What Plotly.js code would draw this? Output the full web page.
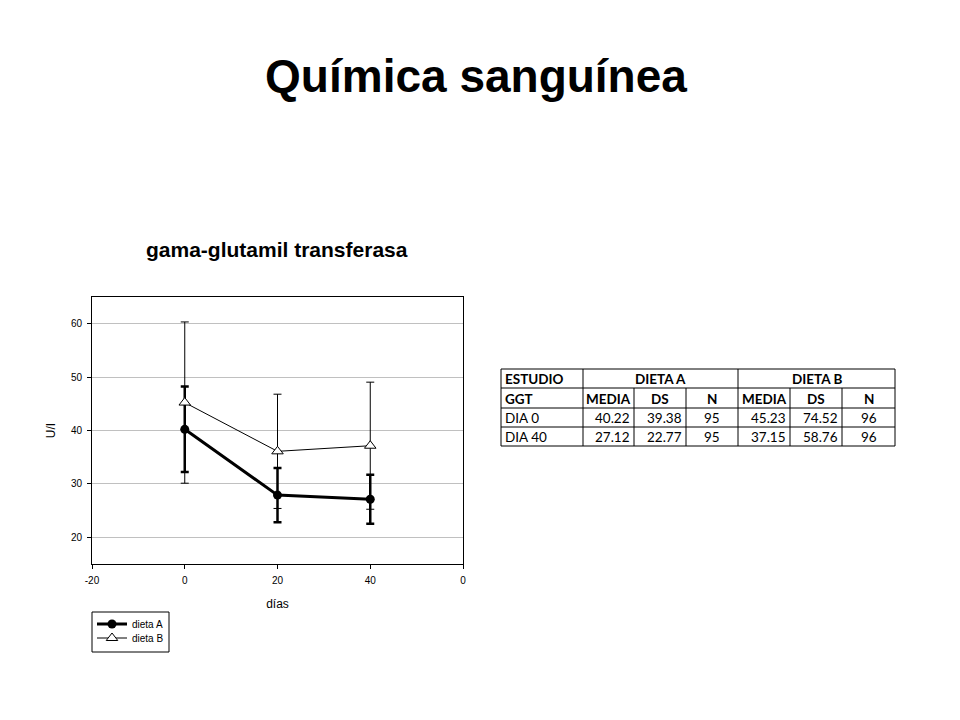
<!DOCTYPE html>
<html>
<head>
<meta charset="utf-8">
<script src="https://cdn.plot.ly/plotly-3.0.1.min.js"></script>
<style>
  html, body { margin: 0; padding: 0; background: #fff; }
  #chart { width: 960px; height: 720px; }
</style>
</head>
<body>
<div id="chart"></div>
<script>
// chart data
const dias = [0, 20, 40];
const mediaA = [40.22, 27.9, 27.12];
const errA = [8.0, 5.1, 4.6];
const mediaB = [45.23, 36.1, 37.15];
const errB = [15.1, 10.7, 11.9];
const xTickVals = [-20, 0, 20, 40, 60];
const xTickText = ['-20', '0', '20', '40', '0'];
const yTickVals = [20, 30, 40, 50, 60];

// table data
const tablaHead = ['ESTUDIO', 'DIETA A', 'DIETA B'];
const tablaSub = ['GGT', 'MEDIA', 'DS', 'N', 'MEDIA', 'DS', 'N'];
const tablaFilas = [
    ['DIA 0', '40.22', '39.38', '95', '45.23', '74.52', '96'],
    ['DIA 40', '27.12', '22.77', '95', '37.15', '58.76', '96']
];

const W = 960, H = 720;
const px = v => v / W;
const py = v => 1 - v / H;

const FONT = 'Liberation Sans, Arial, sans-serif';
const TFONT = 'Lato, Carlito, Calibri, sans-serif';

// each series gets its own legend so the two rows can sit closer than plotly's default spacing
const traces = [
    {
        x: dias, y: mediaA, name: 'dieta A', type: 'scatter', mode: 'lines+markers', legend: 'legend',
        line: {color: '#000', width: 3},
        marker: {symbol: 'circle', size: 9, color: '#000'},
        error_y: {type: 'data', array: errA, visible: true, color: '#000', thickness: 2.5, width: 4}
    },
    {
        x: dias, y: mediaB, name: 'dieta B', type: 'scatter', mode: 'lines+markers', legend: 'legend2',
        line: {color: '#000', width: 1},
        marker: {symbol: 'triangle-up', size: 10, color: '#fff', line: {color: '#000', width: 1}},
        error_y: {type: 'data', array: errB, visible: true, color: '#000', thickness: 1, width: 4}
    }
];

// table grid: column and row edges in page pixels
const colEdges = [501, 583, 634, 686, 738, 790, 842, 895];
const rowEdges = [369, 388, 408, 427, 446];
const line = {color: '#000', width: 1};
const shapes = [];
rowEdges.forEach(r => shapes.push({type: 'line', xref: 'paper', yref: 'paper',
    x0: px(colEdges[0]), x1: px(colEdges[colEdges.length - 1]), y0: py(r), y1: py(r), line}));
colEdges.forEach((c, i) => {
    // first row only has lines around ESTUDIO / DIETA A / DIETA B
    const top = (i === 0 || i === 1 || i === 4 || i === colEdges.length - 1) ? rowEdges[0] : rowEdges[1];
    shapes.push({type: 'line', xref: 'paper', yref: 'paper',
        x0: px(c), x1: px(c), y0: py(top), y1: py(rowEdges[rowEdges.length - 1]), line});
});
// legend frame
shapes.push({type: 'rect', xref: 'paper', yref: 'paper',
    x0: px(92), x1: px(169), y0: py(612), y1: py(652), line, fillcolor: 'rgba(0,0,0,0)'});

const annotations = [
    {text: 'gama-glutamil transferasa', xref: 'paper', yref: 'paper', x: px(277), y: py(249),
     xanchor: 'center', yanchor: 'middle', showarrow: false,
     font: {family: FONT, size: 21, weight: 'bold', color: '#000'}}
];
const cell = (text, r, c0, c1, align, bold) => {
    const yc = (rowEdges[r] + rowEdges[r + 1]) / 2;
    let x, xa;
    if (align === 'left') { x = colEdges[c0] + 2; xa = 'left'; }
    else if (align === 'right') { x = colEdges[c1] - 2; xa = 'right'; }
    else { x = (colEdges[c0] + colEdges[c1]) / 2; xa = 'center'; }
    annotations.push({text: bold ? '<b>' + text + '</b>' : text, xref: 'paper', yref: 'paper',
        x: px(x), y: py(yc + 0.5), xanchor: xa, yanchor: 'middle', showarrow: false,
        font: {family: TFONT, size: 13.5, color: '#000'}});
};
cell(tablaHead[0], 0, 0, 1, 'left', true);
cell(tablaHead[1], 0, 1, 4, 'center', true);
cell(tablaHead[2], 0, 4, 7, 'center', true);
tablaSub.forEach((t, i) => cell(t, 1, i, i + 1, i === 0 ? 'left' : 'center', true));
tablaFilas.forEach((fila, r) => fila.forEach((t, i) => {
    const al = i === 0 ? 'left' : (i === 3 || i === 6 ? 'center' : 'right');
    cell(t, r + 2, i, i + 1, al, false);
}));

const legendStyle = y => ({x: px(92), y: py(y), xanchor: 'left', yanchor: 'middle',
    bgcolor: 'rgba(0,0,0,0)', borderwidth: 0,
    font: {family: FONT, size: 10, color: '#000'}, tracegroupgap: 0});

const layout = {
    width: W, height: H,
    margin: {l: 0, r: 0, t: 0, b: 0},
    paper_bgcolor: '#fff', plot_bgcolor: '#fff',
    font: {family: FONT, color: '#000'},
    title: {text: 'Química sanguínea', xref: 'paper', yref: 'paper', x: px(476), y: py(76),
            xanchor: 'center', yanchor: 'middle',
            font: {family: FONT, size: 46, weight: 'bold', color: '#000'}},
    xaxis: {
        domain: [px(92), px(463)], range: [-20, 60],
        tickmode: 'array', tickvals: xTickVals, ticktext: xTickText,
        showgrid: false, zeroline: false, showline: true, mirror: true,
        linecolor: '#000', linewidth: 1, ticks: 'outside', ticklen: 4, tickcolor: '#000',
        ticklabelstandoff: 3,
        tickfont: {family: FONT, size: 10, color: '#000'},
        title: {text: 'días', font: {family: FONT, size: 12, color: '#000'}, standoff: 14}
    },
    yaxis: {
        domain: [py(564), py(297)], range: [15, 65],
        tickmode: 'array', tickvals: yTickVals,
        showgrid: true, gridcolor: '#c0c0c0', gridwidth: 1, zeroline: false,
        showline: true, mirror: true, linecolor: '#000', linewidth: 1,
        ticks: 'outside', ticklen: 4, tickcolor: '#000',
        ticklabelstandoff: 3,
        tickfont: {family: FONT, size: 10, color: '#000'},
        title: {text: 'U/I', font: {family: FONT, size: 12, color: '#000'}, standoff: 12}
    },
    showlegend: true,
    legend: legendStyle(624),
    legend2: legendStyle(638),
    shapes: shapes,
    annotations: annotations
};

Plotly.newPlot('chart', traces, layout, {staticPlot: true});
</script>
</body>
</html>
